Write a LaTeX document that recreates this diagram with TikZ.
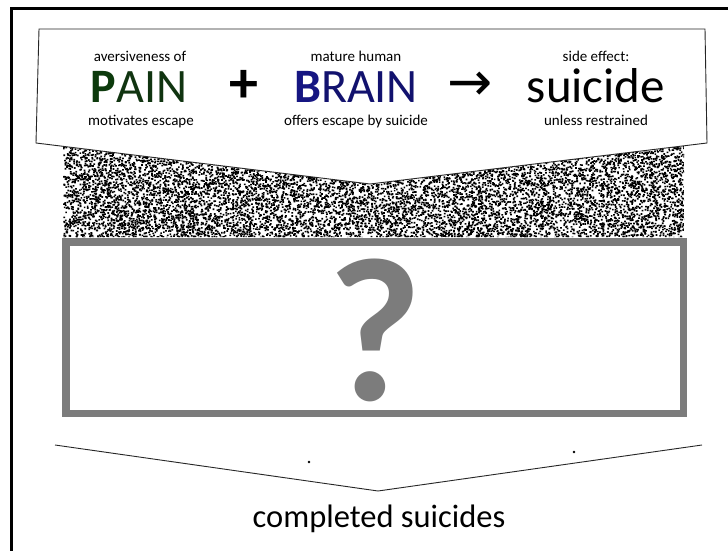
\documentclass[tikz,border=0pt]{standalone}
\usepackage{fontspec}
\setmainfont{Carlito}
\newfontfamily\arrowfont{DejaVu Sans}
\definecolor{paingreen}{RGB}{16,52,16}
\definecolor{painbold}{RGB}{12,58,12}
\definecolor{brainblue}{RGB}{18,18,110}
\definecolor{brainbold}{RGB}{22,22,130}
\definecolor{boxgray}{RGB}{124,124,124}
\begin{document}
\begin{tikzpicture}[x=1pt,y=-1pt,
  smalltxt/.style={anchor=base,inner sep=0pt,font=\fontsize{15}{18}\selectfont},
  bigtxt/.style={anchor=base,inner sep=0pt,font=\fontsize{48}{56}\selectfont},
  thinline/.style={draw=black!85,line width=0.9pt,line join=miter}]
\useasboundingbox (0,0) rectangle (728,551);
\fill[white] (0,0) rectangle (728,551);
% outer frame
\coordinate (fbl) at (11,551);
\coordinate (ftl) at (11,9);
\coordinate (ftr) at (728,9);
\draw[line width=3pt] (fbl) -- (ftl) -- (ftr);
% noise
\begin{scope}
\clip (63,146.3) -- (370,184) -- (684,145.8) -- (684,237) -- (63,237) -- cycle;
\pgfmathsetseed{4242}
\foreach \j in {1,...,110}{
  \fill[black] foreach \i in {1,...,100}{ ({63+621*rnd},{145+92*rnd}) rectangle ++(1.7,1.6) };
}
\end{scope}
% top pentagon
\coordinate (p1) at (39,29);
\coordinate (p2) at (705,29);
\coordinate (p3) at (707,143);
\coordinate (p4) at (370,184);
\coordinate (p5) at (36,143);
\draw[thinline,fill=white] (p1) -- (p2) -- (p3) -- (p4) -- (p5) -- cycle;
% texts top
\node[smalltxt] (t1) at (140,62) {aversiveness of};
\node[bigtxt] (pain) at (139,102) {\textcolor{painbold}{\textbf{P}}\textcolor{paingreen}{AIN}};
\node[smalltxt] (t2) at (141,125) {motivates escape};
\node[anchor=center,inner sep=0pt,font=\fontsize{58}{60}\selectfont\bfseries] (plus) at (244,86) {+};
\node[smalltxt] (t3) at (356,62) {mature human};
\node[bigtxt] (brain) at (356,102) {\textcolor{brainbold}{\textbf{B}}\textcolor{brainblue}{RAIN}};
\node[smalltxt] (t4) at (356,125) {offers escape by suicide};
\node[anchor=center,inner sep=0pt,font=\arrowfont\fontsize{54}{56}\selectfont] (arr) at (470,86) {→};
\node[smalltxt] (t5) at (596,62) {side effect:};
\node[anchor=base,inner sep=0pt,font=\fontsize{49}{56}\selectfont] (sui) at (596,102) {suicide};
\node[smalltxt] (t6) at (596,125) {unless restrained};
% gray box
\node[draw=boxgray,line width=7.5pt,minimum width=617.5pt,minimum height=171.5pt,inner sep=0pt,fill=white] (qbox) at (374.5,327.5) {};
\node[anchor=base,inner sep=0pt,text=boxgray,font=\fontsize{205}{210}\selectfont\bfseries] (qm) at (375,400) {?};
% bottom chevron
\coordinate (c1) at (55,445);
\coordinate (c2) at (378,491);
\coordinate (c3) at (702,445);
\draw[thinline] (c1) -- (c2) -- (c3);
\fill (309,462) circle (1.3);
\fill (574,452) circle (1.3);
\node[anchor=base,inner sep=0pt,font=\fontsize{32.5}{38}\selectfont] (comp) at (379,527) {completed suicides};
\end{tikzpicture}
\end{document}
